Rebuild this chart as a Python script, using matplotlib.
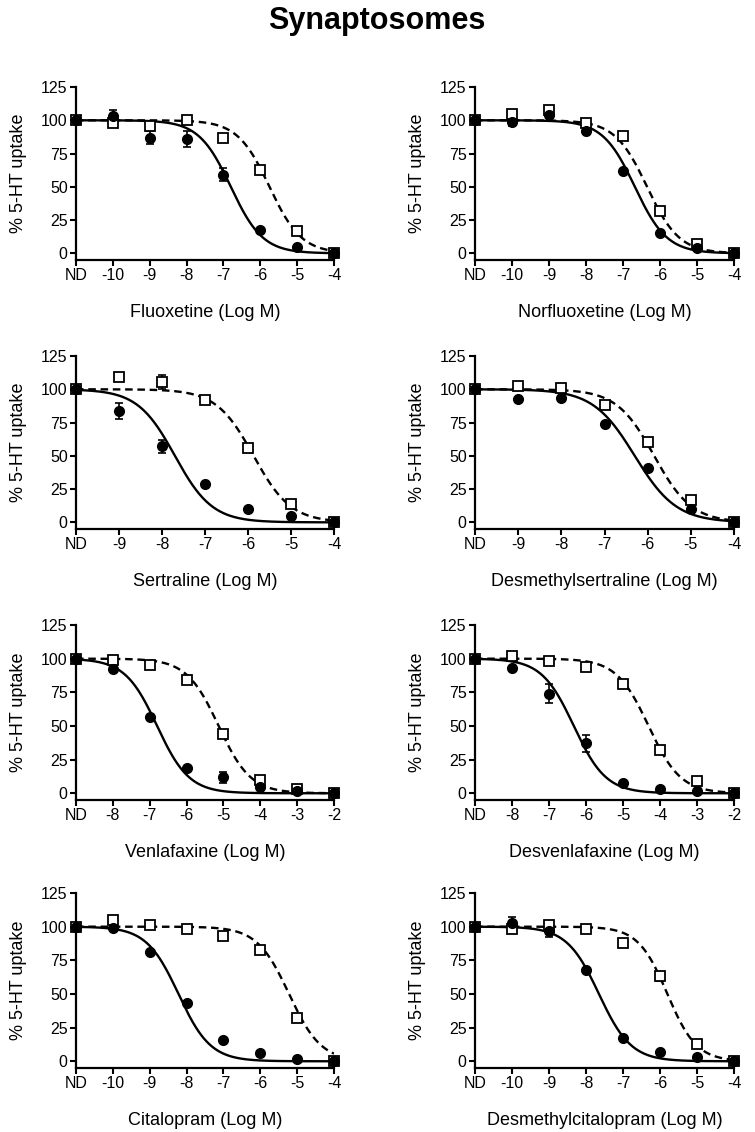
import numpy as np
import matplotlib
matplotlib.use('Agg')
import matplotlib.pyplot as plt

plt.rcParams['font.family'] = ['Liberation Sans', 'DejaVu Sans']

# panel data: drug name, log concentrations (ND first), circles, squares, error bars, fit params
drugs = ['Fluoxetine', 'Norfluoxetine', 'Sertraline', 'Desmethylsertraline',
         'Venlafaxine', 'Desvenlafaxine', 'Citalopram', 'Desmethylcitalopram']

x_fluox = [-10, -9, -8, -7, -6, -5, -4]
x_sert = [-9, -8, -7, -6, -5, -4]
x_venla = [-8, -7, -6, -5, -4, -3, -2]
x_cital = [-10, -9, -8, -7, -6, -5, -4]

xvals = [x_fluox, x_fluox, x_sert, x_sert, x_venla, x_venla, x_cital, x_cital]

# filled circles (solid fit)
circ_fluoxetine = [100, 103, 87, 86, 59, 17.5, 5, 0]
circ_norfluoxetine = [100, 99, 104, 92, 62, 15, 4, 0]
circ_sertraline = [100, 84, 57, 28.5, 10, 5, 0]
circ_desmethylsertraline = [100, 93, 93.5, 74, 41, 10, 0]
circ_venlafaxine = [100, 92.5, 56.5, 18.5, 12, 5, 2, 0]
circ_desvenlafaxine = [100, 93, 74, 37, 8, 3, 2, 0]
circ_citalopram = [100, 99, 81, 43, 16, 6, 2, 0]
circ_desmethylcitalopram = [100, 103, 97, 68, 17.5, 7, 3, 0]

# open squares (dashed fit)
sq_fluoxetine = [100, 98, 96, 100, 86.5, 62.5, 17, 0]
sq_norfluoxetine = [100, 105, 108, 98, 88, 32, 7, 0]
sq_sertraline = [100, 109, 105.5, 92, 56, 13.5, 0]
sq_desmethylsertraline = [100, 102.5, 101, 88.5, 60.5, 17, 0]
sq_venlafaxine = [100, 99, 95.5, 84, 44, 10, 3, 0]
sq_desvenlafaxine = [100, 102, 98, 94, 81.5, 32.5, 9, 0]
sq_citalopram = [100, 105, 101.5, 98.5, 93, 83, 32.5, 0]
sq_desmethylcitalopram = [100, 98, 101.5, 98, 88, 63, 12.5, 0]

# SEM
circ_err = [
    [0, 5, 5, 6, 5, 0, 0, 0],
    [0, 3, 0, 2, 0, 0, 0, 0],
    [0, 6, 5, 0, 0, 0, 0],
    [0, 0, 0, 0, 0, 0, 0],
    [0, 0, 0, 0, 4, 0, 0, 0],
    [0, 0, 7, 6, 0, 0, 0, 0],
    [0, 0, 0, 0, 0, 0, 0, 0],
    [0, 4, 5, 0, 0, 0, 0, 0],
]
sq_err = [
    [0, 0, 0, 0, 0, 2, 0, 0],
    [0, 0, 3, 3, 0, 0, 0, 0],
    [0, 0, 5, 0, 0, 0, 0],
    [0, 0, 0, 0, 0, 0, 0],
    [0, 0, 0, 0, 0, 0, 0, 0],
    [0, 0, 0, 0, 0, 0, 0, 0],
    [0, 0, 0, 0, 0, 0, 0, 0],
    [0, 0, 0, 0, 0, 3, 0, 0],
]

circles = [circ_fluoxetine, circ_norfluoxetine, circ_sertraline, circ_desmethylsertraline,
           circ_venlafaxine, circ_desvenlafaxine, circ_citalopram, circ_desmethylcitalopram]
squares = [sq_fluoxetine, sq_norfluoxetine, sq_sertraline, sq_desmethylsertraline,
           sq_venlafaxine, sq_desvenlafaxine, sq_citalopram, sq_desmethylcitalopram]

# fitted logIC50 and Hill slope (solid, dashed)
ic50_solid = [-6.8, -6.68, -7.7, -6.3, -6.8, -6.33, -8.22, -7.65]
hill_solid = [1.0, 1.0, 1.0, 0.9, 1.0, 1.0, 1.0, 1.0]
ic50_dash = [-5.75, -6.35, -5.87, -5.85, -5.13, -4.31, -5.22, -5.8]
hill_dash = [1.0, 1.0, 1.0, 1.0, 1.0, 1.0, 1.0, 1.1]

W, H = 755, 1132
fig = plt.figure(figsize=(W / 100, H / 100), dpi=100)

col_left = [76, 475]
col_right = [334, 734]
row_top = [87, 356, 625, 893]
row_bot = [260, 529, 800, 1068]

fig.text(377 / W, 1 - 21 / H, 'Synaptosomes', ha='center', va='center',
         fontsize=22, fontweight='bold')


def logistic(x, ic50, hill):
    return 100 / (1 + 10 ** ((x - ic50) * hill))


for i, name in enumerate(drugs):
    r, c = divmod(i, 2)
    l, rr = col_left[c], col_right[c]
    t, b = row_top[r], row_bot[r]
    ax = fig.add_axes([l / W, 1 - b / H, (rr - l) / W, (b - t) / H])

    xs = xvals[i]
    nd = xs[0] - 1
    xpos = [nd] + xs

    xx = np.linspace(nd, xs[-1], 300)
    ax.plot(xx, logistic(xx, ic50_dash[i], hill_dash[i]), color='black', lw=1.7,
            ls=(0, (3.2, 2.0)), zorder=2)
    ax.plot(xx, logistic(xx, ic50_solid[i], hill_solid[i]), color='black', lw=1.7, zorder=2)

    se = np.array(sq_err[i])
    ce = np.array(circ_err[i])
    ax.errorbar(xpos, squares[i], yerr=se, fmt='none', ecolor='black', elinewidth=1.2,
                capsize=3.2, capthick=1.2, zorder=3, clip_on=False)
    ax.errorbar(xpos, circles[i], yerr=ce, fmt='none', ecolor='black', elinewidth=1.2,
                capsize=3.2, capthick=1.2, zorder=3, clip_on=False)
    ax.plot(xpos, squares[i], ls='none', marker='s', ms=7, mfc='white', mec='black',
            mew=1.3, zorder=4, clip_on=False)
    ax.plot(xpos, circles[i], ls='none', marker='o', ms=7, mfc='black', mec='black',
            zorder=5, clip_on=False)

    ax.set_xlim(nd, xs[-1])
    ax.set_ylim(-5, 125)
    ax.set_yticks([0, 25, 50, 75, 100, 125])
    ax.set_xticks(xpos)
    ax.set_xticklabels(['ND'] + [str(v) for v in xs])
    for s in ['top', 'right']:
        ax.spines[s].set_visible(False)
    for s in ['left', 'bottom']:
        ax.spines[s].set_linewidth(1.6)
    ax.tick_params(direction='out', length=4, width=1.5, labelsize=11.5, pad=2)
    ax.set_ylabel('% 5-HT uptake', fontsize=13, labelpad=10)
    ax.set_xlabel(name + ' (Log M)', fontsize=13, labelpad=15)

fig.savefig('out.png', dpi=100)
